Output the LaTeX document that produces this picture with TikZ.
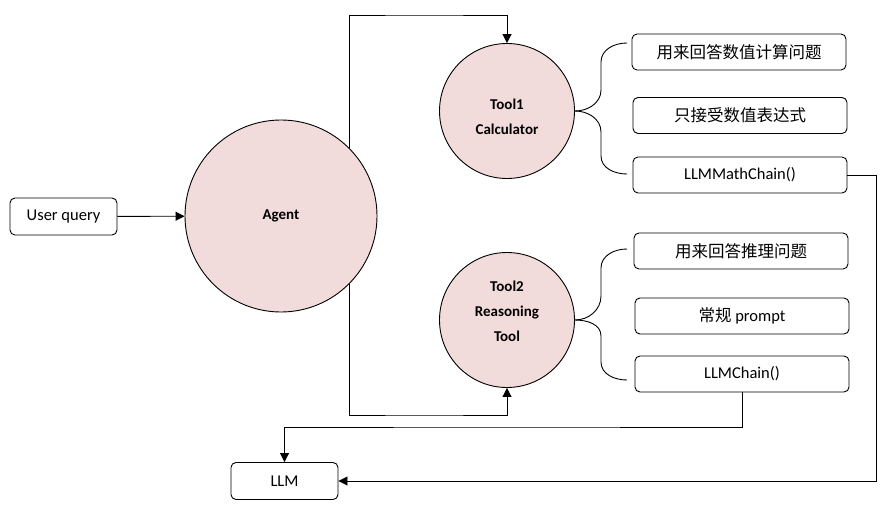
\documentclass[tikz,border=0pt]{standalone}
\usepackage{fontspec}
\setmainfont{Carlito}
\newfontfamily\cjk{Noto Sans CJK SC}
\usepackage{tikz}
\usetikzlibrary{shapes.geometric, arrows.meta, positioning, calc}
\definecolor{toolpink}{RGB}{242, 220, 219}

\begin{document}
\begin{tikzpicture}[
    x=1pt, y=-1pt,
    toolcircle/.style={draw, circle, fill=toolpink, line width=0.9pt, align=center, font=\fontsize{15}{25}\selectfont\bfseries},
    toollabel/.style={align=center, font=\fontsize{15}{25}\selectfont\bfseries},
    descbox/.style={draw, rounded corners=5pt, minimum width=214pt, minimum height=36pt, line width=0.9pt, font=\fontsize{16.5}{20}\selectfont},
    iobox/.style={draw, rounded corners=5pt, minimum width=107pt, minimum height=37pt, line width=0.9pt, font=\fontsize{16.5}{20}\selectfont},
    arrow/.style={-{Triangle[length=9pt, width=9pt]}, line width=0.9pt},
    brace/.style={line width=0.9pt}
]
    \useasboundingbox (0,0) rectangle (885,505);

    % Input and LLM
    \node[iobox] (query) at (63.5,216.5) {User query};
    \node[iobox] (llm) at (284.5,481) {LLM};

    % Agent
    \node[toolcircle, minimum size=192pt] (agent) at (281,216) {Agent};

    % Tools
    \node[toolcircle, minimum size=135pt,
          label={[toollabel, yshift=-6pt]center:Tool1\\Calculator}] (tool1) at (507,111) {};
    \node[toolcircle, minimum size=135pt,
          label={[toollabel, yshift=9pt]center:Tool2\\Reasoning\\Tool}] (tool2) at (507,320) {};

    % Calculator notes
    \node[descbox] (calcuse) at (739,52) {\cjk 用来回答数值计算问题};
    \node[descbox] (calcexpr) at (740,115.5) {\cjk 只接受数值表达式};
    \node[descbox] (calcchain) at (740,175) {LLMMathChain()};

    % Reasoning notes
    \node[descbox] (reasonuse) at (741,251) {\cjk 用来回答推理问题};
    \node[descbox] (reasonprompt) at (742,316) {{\cjk 常规} prompt};
    \node[descbox] (reasonchain) at (742,374) {LLMChain()};

    % Routing points
    \coordinate (toproute) at (420,15);
    \coordinate (botroute) at (420,415);
    \coordinate (rightroute) at (876,300);
    \coordinate (llmroute) at (500,427);

    % Arrows
    \draw[arrow] (query) -- (agent);
    \draw[arrow] (agent.45) |- (toproute) -| (tool1.north);
    \draw[arrow] (agent.-45) |- (botroute) -| (tool2.south);
    \draw[arrow] (calcchain.east) -| (rightroute) |- (llm.east);
    \draw[arrow] (reasonchain.south) |- (llmroute) -| (llm.north);

    % Braces
    \draw[brace] (tool1.east) to[out=0, in=-90] (601,90) -- (601,62) to[out=90, in=180] (627,43);
    \draw[brace] (tool1.east) to[out=0, in=90] (601,132) -- (601,156) to[out=-90, in=180] (627,174);
    \draw[brace] (tool2.east) to[out=0, in=-90] (601,296) -- (601,268) to[out=90, in=180] (627,249);
    \draw[brace] (tool2.east) to[out=0, in=90] (601,336) -- (601,362) to[out=-90, in=180] (627,380);
\end{tikzpicture}
\end{document}
